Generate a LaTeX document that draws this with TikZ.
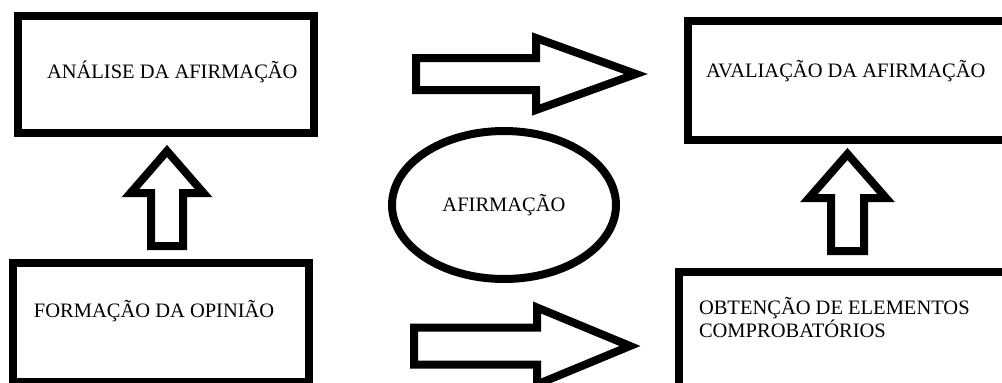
\documentclass[tikz,border=0pt]{standalone}
\usepackage{fontspec}
\setmainfont{Liberation Serif}
\usetikzlibrary{calc,shapes.geometric}

\begin{document}
\begin{tikzpicture}[x=1pt,y=-1pt,line width=8pt,
	caixa/.style={draw, rectangle, inner sep=0pt},
	rotulo/.style={inner sep=0pt, anchor=base west, align=left, font=\fontsize{20.5}{19}\selectfont},
	seta direita/.style n args={3}{to path={
		($(\tikztostart)+(0,-#1)$) -- ($(\tikztotarget)+(-#3,-#1)$) -- ($(\tikztotarget)+(-#3,-#2)$) -- (\tikztotarget)
		-- ($(\tikztotarget)+(-#3,#2)$) -- ($(\tikztotarget)+(-#3,#1)$) -- ($(\tikztostart)+(0,#1)$) -- cycle}},
	seta cima/.style n args={3}{to path={
		($(\tikztostart)+(-#1,0)$) -- ($(\tikztotarget)+(-#1,#3)$) -- ($(\tikztotarget)+(-#2,#3)$) -- (\tikztotarget)
		-- ($(\tikztotarget)+(#2,#3)$) -- ($(\tikztotarget)+(#1,#3)$) -- ($(\tikztostart)+(#1,0)$) -- cycle}}]
	\useasboundingbox (0,0) rectangle (1002,383);
	\clip (0,0) rectangle (1002,383);

	\node[caixa, minimum width=296.5pt, minimum height=116.5pt] (analise) at (165.75,74.25) {};
	\node[rotulo] (tanalise) at (43,78) {ANÁLISE DA AFIRMAÇÃO};
	\node[caixa, minimum width=327.5pt, minimum height=119pt] (avaliacao) at (851.25,80.5) {};
	\node[rotulo] (tavaliacao) at (702,77) {AVALIAÇÃO DA AFIRMAÇÃO};
	\node[caixa, minimum width=296.5pt, minimum height=119.5pt] (formacao) at (160.75,322.25) {};
	\node[rotulo] (tformacao) at (30,317) {FORMAÇÃO DA OPINIÃO};
	\node[caixa, minimum width=336pt, minimum height=123pt] (obtencao) at (847,333.5) {};
	\node[rotulo] (tobtencao) at (695,337) {OBTENÇÃO DE ELEMENTOS\\COMPROBATÓRIOS};

	\node[draw, ellipse, minimum width=224pt, minimum height=148pt, inner sep=0pt,
		font=\fontsize{20.5}{19}\selectfont] (afirmacao) at (504,205) {AFIRMAÇÃO};

	\coordinate (inicio1) at (416,74);
	\coordinate (ponta1) at (636,74);
	\draw[seta direita={16}{36}{100}] (inicio1) to (ponta1);
	\coordinate (inicio2) at (414,346);
	\coordinate (ponta2) at (630,346);
	\draw[seta direita={18.5}{38.5}{93}] (inicio2) to (ponta2);
	\coordinate (inicio3) at (167,246);
	\coordinate (ponta3) at (167,151);
	\draw[seta cima={16}{36.5}{42}] (inicio3) to (ponta3);
	\coordinate (inicio4) at (847.5,251);
	\coordinate (ponta4) at (847.5,154);
	\draw[seta cima={16.5}{38.5}{44}] (inicio4) to (ponta4);
\end{tikzpicture}
\end{document}
